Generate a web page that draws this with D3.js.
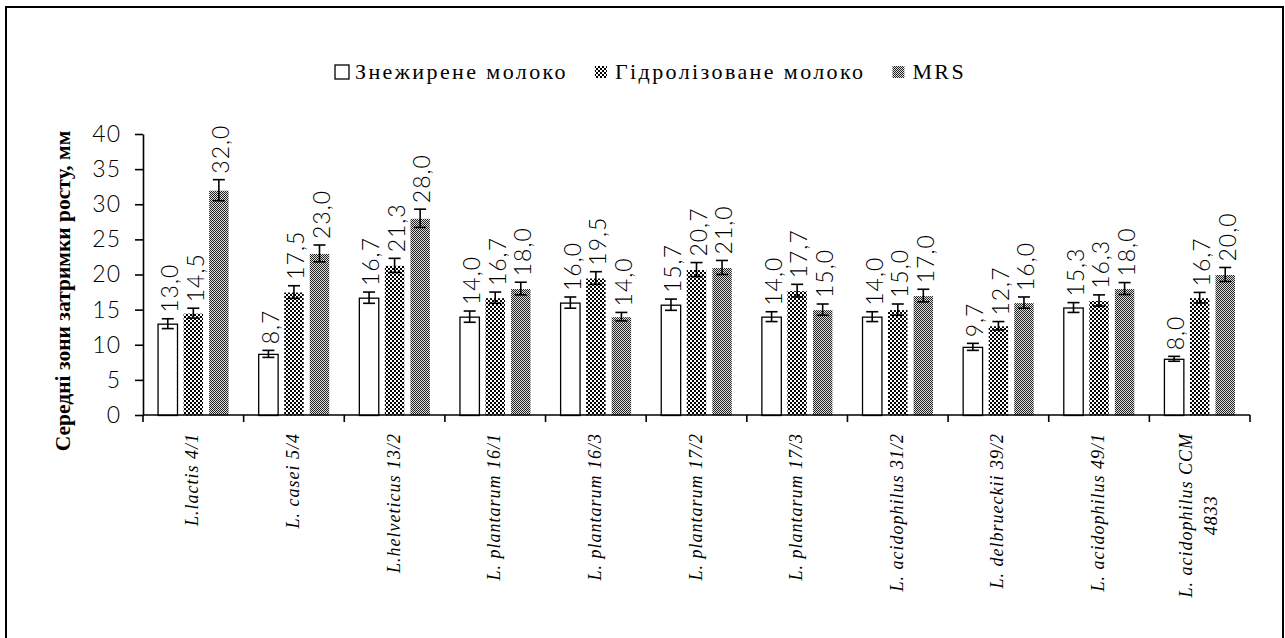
<!DOCTYPE html>
<html>
<head>
<meta charset="utf-8">
<script src="https://cdn.jsdelivr.net/npm/d3@7"></script>
<style>
  body { margin: 0; background: #fff; }
  .num { font-family: Lato, "DejaVu Sans", sans-serif; font-weight: 300; font-size: 23px; fill: #000; }
</style>
</head>
<body>
<div id="chart"></div>
<script>
const categories = ["L.lactis 4/1", "L. casei 5/4", "L.helveticus 13/2", "L. plantarum 16/1",
  "L. plantarum 16/3", "L. plantarum 17/2", "L. plantarum 17/3", "L. acidophilus 31/2",
  "L. delbrueckii 39/2", "L. acidophilus 49/1", "L. acidophilus CCM\n4833"];
const seriesNames = ["Знежирене молоко", "Гідролізоване молоко", "MRS"];
const skim = [13.0, 8.7, 16.7, 14.0, 16.0, 15.7, 14.0, 14.0, 9.7, 15.3, 8.0];
const hydro = [14.5, 17.5, 21.3, 16.7, 19.5, 20.7, 17.7, 15.0, 12.7, 16.3, 16.7];
const mrs = [32.0, 23.0, 28.0, 18.0, 14.0, 21.0, 15.0, 17.0, 16.0, 18.0, 20.0];
const skimErr = [0.7, 0.5, 0.8, 0.8, 0.8, 0.8, 0.7, 0.7, 0.5, 0.7, 0.35];
const hydroErr = [0.7, 0.9, 1.0, 0.8, 0.9, 1.0, 0.9, 0.8, 0.6, 0.8, 0.75];
const mrsErr = [1.5, 1.2, 1.3, 0.9, 0.6, 1.0, 0.8, 0.9, 0.8, 0.85, 1.0];
const yTicks = [0, 5, 10, 15, 20, 25, 30, 35, 40];
const yTitle = "Середні зони затримки росту, мм";

const values = [skim, hydro, mrs];
const errors = [skimErr, hydroErr, mrsErr];
const serifFont = '"Liberation Serif", "Times New Roman", serif';

const W = 1285, H = 638;
const svg = d3.select("#chart").append("svg").attr("width", W).attr("height", H);

// patterns
const defs = svg.append("defs");
const p1 = defs.append("pattern").attr("id", "checker").attr("patternUnits", "userSpaceOnUse")
  .attr("width", 4).attr("height", 4);
p1.append("rect").attr("width", 4).attr("height", 4).attr("fill", "#fff");
p1.append("rect").attr("width", 2).attr("height", 2).attr("fill", "#000");
p1.append("rect").attr("x", 2).attr("y", 2).attr("width", 2).attr("height", 2).attr("fill", "#000");
const p2 = defs.append("pattern").attr("id", "fine").attr("patternUnits", "userSpaceOnUse")
  .attr("width", 2).attr("height", 2);
p2.append("rect").attr("width", 2).attr("height", 2).attr("fill", "#ddd");
p2.append("rect").attr("width", 1).attr("height", 1).attr("fill", "#222");
p2.append("rect").attr("x", 1).attr("y", 1).attr("width", 1).attr("height", 1).attr("fill", "#222");
const fills = ["#fff", "url(#checker)", "url(#fine)"];
const strokes = ["#000", "none", "none"];

// frame
svg.append("rect").attr("x", 6).attr("y", 7).attr("width", 1277).attr("height", 640)
  .attr("fill", "none").attr("stroke", "#000").attr("stroke-width", 2);

const x = d3.scaleBand().domain(categories).range([143, 1250]);
const xs = d3.scaleBand().domain([0, 1, 2]).range([0, x.bandwidth()])
  .paddingInner(0.2).paddingOuter(0.57);
const y = d3.scaleLinear().domain([0, 40]).range([415, 134]);

// bars
const rows = [];
categories.forEach((c, i) => {
  values.forEach((arr, s) => rows.push({ c, s, v: arr[i], e: errors[s][i] }));
});

const g = svg.append("g");
g.selectAll("rect.bar").data(rows).join("rect")
  .attr("class", "bar")
  .attr("x", d => x(d.c) + xs(d.s) + 0.5)
  .attr("y", d => y(d.v) + 0.5)
  .attr("width", xs.bandwidth() - 1)
  .attr("height", d => y(0) - y(d.v))
  .attr("fill", d => fills[d.s])
  .attr("stroke", d => strokes[d.s])
  .attr("stroke-width", 1.3);

// error bars
const eb = g.selectAll("g.err").data(rows).join("g").attr("class", "err")
  .attr("stroke", "#000").attr("stroke-width", 1.6);
const cx = d => x(d.c) + xs(d.s) + xs.bandwidth() / 2;
eb.append("line").attr("x1", cx).attr("x2", cx)
  .attr("y1", d => y(d.v + d.e)).attr("y2", d => y(d.v - d.e));
eb.append("line").attr("x1", d => cx(d) - 6).attr("x2", d => cx(d) + 6)
  .attr("y1", d => y(d.v + d.e)).attr("y2", d => y(d.v + d.e));
eb.append("line").attr("x1", d => cx(d) - 6).attr("x2", d => cx(d) + 6)
  .attr("y1", d => y(d.v - d.e)).attr("y2", d => y(d.v - d.e));

// value labels
g.selectAll("text.val").data(rows).join("text")
  .attr("class", "num val")
  .attr("transform", d => `translate(${cx(d) + 2},${y(d.v + d.e) - 6}) rotate(-90)`)
  .attr("dy", "0.36em")
  .attr("letter-spacing", 1)
  .text(d => d3.format(".1f")(d.v).replace(".", ","));

// y axis
const yAxis = svg.append("g").attr("transform", "translate(143,0)")
  .call(d3.axisLeft(y).tickValues(yTicks).tickSize(8).tickPadding(14).tickSizeOuter(0));
yAxis.attr("font-family", null).attr("font-size", null);
yAxis.select(".domain").attr("stroke", "#000").attr("stroke-width", 1.6);
yAxis.selectAll(".tick line").attr("stroke", "#000").attr("stroke-width", 1.6);
yAxis.selectAll(".tick text").attr("class", "num").attr("letter-spacing", 1);

// x axis line and boundary ticks
const bounds = d3.range(categories.length + 1).map(k => 143 + k * x.step());
svg.append("line").attr("x1", x.range()[0]).attr("x2", x.range()[1])
  .attr("y1", y(0)).attr("y2", y(0)).attr("stroke", "#000").attr("stroke-width", 1.6);
svg.selectAll("line.xt").data(bounds).join("line").attr("class", "xt")
  .attr("x1", d => d).attr("x2", d => d).attr("y1", y(0)).attr("y2", y(0) + 7)
  .attr("stroke", "#000").attr("stroke-width", 1.6);

// category labels
const cl = svg.selectAll("text.cat").data(categories).join("text")
  .attr("class", "cat")
  .style("font-family", serifFont)
  .style("font-style", "italic").style("font-size", "18px").attr("letter-spacing", 1)
  .attr("text-anchor", "middle");
cl.each(function(c) {
  const t = d3.select(this);
  c.split("\n").forEach((ln, j) => {
    t.append("tspan").attr("x", 0).attr("dy", j === 0 ? 0 : "1.4em").text(ln);
  });
});
cl.attr("transform", function(c) {
  const lines = c.split("\n");
  const w = d3.max(Array.from(this.querySelectorAll("tspan")), n => n.getComputedTextLength());
  const cxp = x(c) + x.bandwidth() / 2 - (lines.length - 1) * 12.5;
  return `translate(${cxp + 5},${y(0) + 18 + w / 2}) rotate(-90)`;
});

// y title
svg.append("text")
  .style("font-family", serifFont)
  .style("font-weight", "bold").style("font-size", "21.5px")
  .attr("text-anchor", "middle")
  .attr("transform", "translate(70,291) rotate(-90)")
  .text(yTitle);

// legend
const leg = svg.append("g").attr("class", "legend");
let lx = 335;
seriesNames.forEach((name, s) => {
  const size = s === 0 ? 14 : 12;
  leg.append("rect").attr("x", lx).attr("y", 72 - size / 2).attr("width", size).attr("height", size)
    .attr("fill", fills[s]).attr("stroke", strokes[s]).attr("stroke-width", 1.3);
  const t = leg.append("text")
    .style("font-family", serifFont).style("font-size", "22px")
    .attr("letter-spacing", 2.4).attr("x", lx + 20).attr("y", 72).attr("dy", "0.34em").text(name);
  lx += 20 + t.node().getComputedTextLength() + 27;
});
</script>
</body>
</html>
